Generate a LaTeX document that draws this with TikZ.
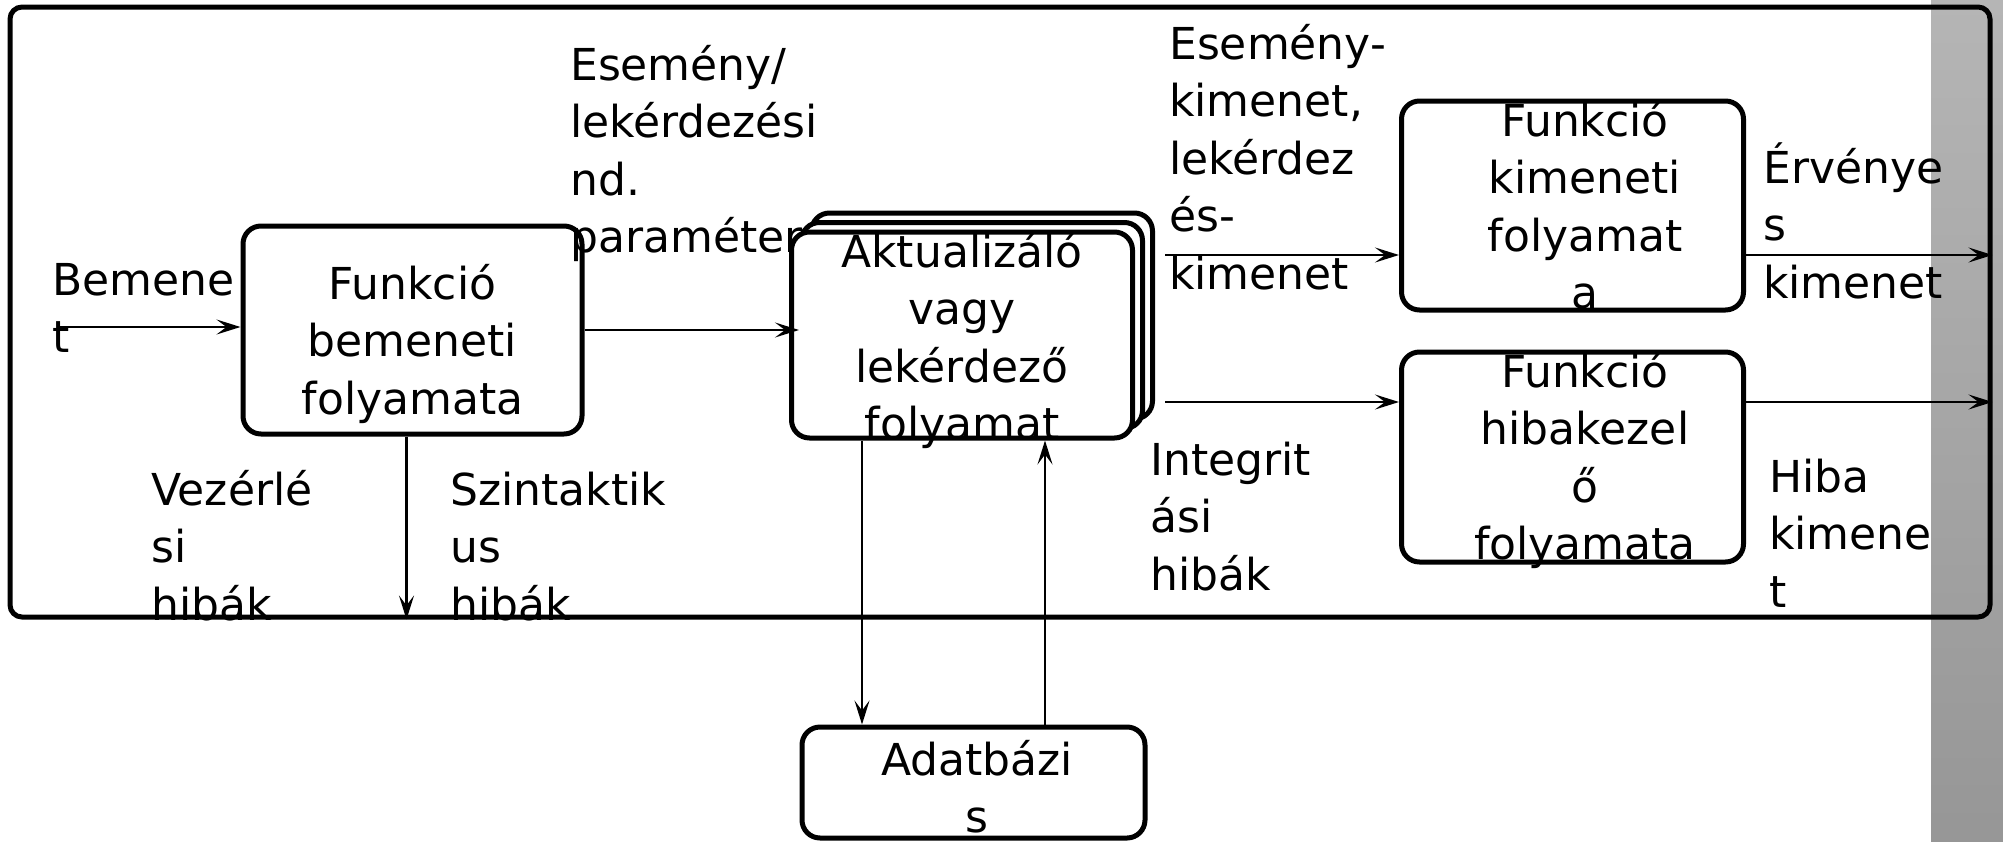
\documentclass[tikz,border=0pt]{standalone}
\usepackage{fontspec}
\newfontfamily\cfont{DejaVu Sans}
\usetikzlibrary{arrows.meta,calc}
\newcommand\fst{\rule{0pt}{50pt}}
\begin{document}
\begin{tikzpicture}[x=1pt,y=-1pt,
  box/.style={draw, line width=5pt, rounded corners=18pt, fill=white, inner sep=0pt},
  lbl/.style={inner sep=0pt, font=\cfont\fontsize{44}{57.5}\selectfont},
  arr/.style={line width=2.3pt, -{Stealth[length=24pt,width=15pt,inset=10pt]}}]
\fill[white] (0,0) rectangle (2003,841);
\useasboundingbox (0,0) rectangle (2003,841);
\shade[top color=black!29, bottom color=black!41] (1931,0) rectangle (2003,841);
% frame
\node[draw, line width=5pt, rounded corners=12pt, minimum width=1980pt, minimum height=610pt, inner sep=0pt] (fr) at (1000,312) {};
% boxes
\node[box, minimum width=339pt, minimum height=208pt] (b1) at (412.5,330) {};
\node[box, minimum width=341pt, minimum height=206pt] (st3) at (982,316) {};
\node[box, minimum width=341pt, minimum height=206pt] (st2) at (972,325.5) {};
\node[box, minimum width=341pt, minimum height=206pt] (st) at (962,335) {};
\node[box, minimum width=342pt, minimum height=209pt] (kim) at (1572.5,205.5) {};
\node[box, minimum width=342pt, minimum height=210pt] (hib) at (1572.5,457) {};
\node[box, minimum width=343pt, minimum height=111pt] (ad) at (973.5,782.5) {};
% connectors
\coordinate (in) at (60,327);
\coordinate (o1) at (1165,255);
\coordinate (o2) at (1165,402);
\draw[arr] (in) -- (in -| b1.west);
\draw[arr] (b1.east) -- (b1.east -| st2.west);
\draw[arr] ([xshift=-6pt]b1.south) -- ([xshift=-6pt]b1.south |- fr.south);
\draw[arr] ([xshift=-100pt]st.south) -- ([xshift=-100pt]st.south |- ad.north);
\draw[arr] ([xshift=83pt]st.south |- ad.north) -- ([xshift=83pt]st.south);
\draw[arr] (o1) -- (o1 -| kim.west);
\draw[arr] (o2) -- (o2 -| hib.west);
\draw[arr] (o1 -| kim.east) -- (o1 -| fr.east);
\draw[arr] (o2 -| hib.east) -- (o2 -| fr.east);
% texts
\node[lbl, anchor=north west, align=left] (t1) at (52,245) {\fst Bemene\\t};
\node[lbl, anchor=north, align=center] (t2) at (412.5,249) {\fst Funkció\\bemeneti\\folyamata};
\node[lbl, anchor=north west, align=left] (t3) at (570,30) {\fst Esemény/\\lekérdezési\\nd.\\paraméter};
\node[lbl, anchor=north west, align=left] (t4) at (151,455) {\fst Vezérlé\\si\\hibák};
\node[lbl, anchor=north west, align=left] (t5) at (450,455) {\fst Szintaktik\\us\\hibák};
\node[lbl, anchor=north, align=center] (t6) at (962,217) {\fst Aktualizáló\\vagy\\lekérdező\\folyamat};
\node[lbl, anchor=north west, align=left] (t7) at (1169,9) {\fst Esemény-\\kimenet,\\lekérdez\\és-\\kimenet};
\node[lbl, anchor=north, align=center] (t8) at (1585,86) {\fst Funkció\\kimeneti\\folyamat\\a};
\node[lbl, anchor=north west, align=left] (t9) at (1763,133) {\fst Érvénye\\s\\kimenet};
\node[lbl, anchor=north, align=center] (t10) at (1585,337) {\fst Funkció\\hibakezel\\ő\\folyamata};
\node[lbl, anchor=north west, align=left] (t11) at (1150,425) {\fst Integrit\\ási\\hibák};
\node[lbl, anchor=north west, align=left] (t12) at (1769,442) {\fst Hiba\\kimene\\t};
\node[lbl, anchor=north, align=center] (t13) at (977,725) {\fst Adatbázi\\s};
\end{tikzpicture}
\end{document}
